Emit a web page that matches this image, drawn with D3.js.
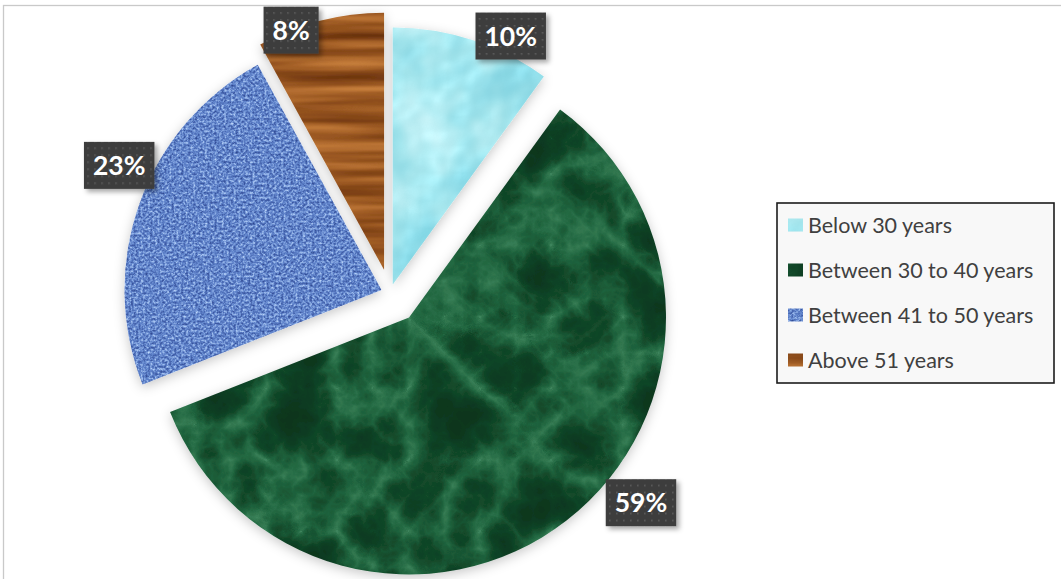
<!DOCTYPE html>
<html>
<head>
<meta charset="utf-8">
<script src="https://cdn.jsdelivr.net/npm/d3@7"></script>
<style>
  html, body { margin: 0; padding: 0; background: #ffffff; }
  svg { display: block; }
</style>
</head>
<body>
<svg id="chart" width="1061" height="579"></svg>
<script>
// ---------- data ----------
const categories = ["Below 30 years", "Between 30 to 40 years", "Between 41 to 50 years", "Above 51 years"];
const values = [10, 59, 23, 8];
const labels = ["10%", "59%", "23%", "8%"];

// ---------- layout / style ----------
const W = 1061, H = 579;
const center = { x: 390, y: 293 };
const radius = 257;
const explode = [9, 31, 9, 24];               // per-slice explosion (px)
const labelAngleShift = [7.4, -13.6, 5.6, -6.8]; // degrees from slice mid-angle
const labelRadiusFactor = [1.07, 1.155, 1.13, 1.0];
const textureIds = ["tex-water", "tex-marble", "tex-fabric", "tex-wood"];
const baseColors = ["#a8e2ec", "#1b5a34", "#5b80c9", "#9a5a24"];

const svg = d3.select("#chart");
const defs = svg.append("defs");

// texture filter builder
function textureFilter(id, turbType, freq, octaves, seed, tables, spec) {
  const f = defs.append("filter").attr("id", id)
    .attr("x", "-5%").attr("y", "-5%").attr("width", "110%").attr("height", "110%")
    .attr("color-interpolation-filters", "sRGB");
  f.append("feTurbulence").attr("type", turbType).attr("baseFrequency", freq)
    .attr("numOctaves", octaves).attr("seed", seed).attr("result", "noise");
  f.append("feColorMatrix").attr("in", "noise").attr("type", "matrix")
    .attr("values", "1 0 0 0 0  1 0 0 0 0  1 0 0 0 0  0 0 0 0 1").attr("result", "gray");
  const ct = f.append("feComponentTransfer").attr("in", "gray").attr("result", "col");
  ct.append("feFuncR").attr("type", "table").attr("tableValues", tables[0]);
  ct.append("feFuncG").attr("type", "table").attr("tableValues", tables[1]);
  ct.append("feFuncB").attr("type", "table").attr("tableValues", tables[2]);
  let last = "col";
  if (spec) {
    const sl = f.append("feSpecularLighting").attr("in", "noise").attr("surfaceScale", spec.scale)
      .attr("specularConstant", spec.k).attr("specularExponent", spec.exp)
      .attr("lighting-color", "#ffffff").attr("result", "spec");
    sl.append("feDistantLight").attr("azimuth", 225).attr("elevation", spec.elev);
    f.append("feComposite").attr("in", "spec").attr("in2", "SourceAlpha").attr("operator", "in").attr("result", "spec2");
    f.append("feComposite").attr("in", "col").attr("in2", "spec2").attr("operator", "arithmetic")
      .attr("k1", 0).attr("k2", 1).attr("k3", spec.mix).attr("k4", 0).attr("result", "lit");
    last = "lit";
  }
  f.append("feComposite").attr("in", last).attr("in2", "SourceGraphic").attr("operator", "in");
}

textureFilter("tex-water", "fractalNoise", "0.018", 3, 7,
  ["0.42 0.52 0.62 0.74 0.86", "0.78 0.83 0.88 0.93 0.97", "0.84 0.88 0.91 0.95 0.98"],
  { scale: 4, k: 0.5, exp: 20, elev: 45, mix: 0.28 });
textureFilter("tex-marble", "turbulence", "0.014", 5, 3,
  ["0.24 0.13 0.07 0.05 0.04 0.04", "0.52 0.40 0.28 0.23 0.21 0.2", "0.36 0.25 0.16 0.13 0.11 0.1"]);
textureFilter("tex-fabric", "fractalNoise", "0.42", 2, 11,
  ["0.14 0.24 0.38 0.62 0.84", "0.24 0.35 0.52 0.74 0.91", "0.50 0.64 0.80 0.93 1"]);
textureFilter("tex-wood", "fractalNoise", "0.004 0.07", 3, 5,
  ["0.32 0.46 0.60 0.74 0.84", "0.14 0.23 0.34 0.46 0.56", "0.03 0.07 0.13 0.21 0.28"]);

// slice shadow
const sh = defs.append("filter").attr("id", "slice-shadow")
  .attr("x", "-20%").attr("y", "-20%").attr("width", "140%").attr("height", "140%");
sh.append("feGaussianBlur").attr("in", "SourceAlpha").attr("stdDeviation", 6).attr("result", "b");
sh.append("feOffset").attr("in", "b").attr("dx", 0).attr("dy", 3).attr("result", "o");
sh.append("feFlood").attr("flood-color", "#000").attr("flood-opacity", 0.22);
sh.append("feComposite").attr("in2", "o").attr("operator", "in").attr("result", "s");
const shm = sh.append("feMerge");
shm.append("feMergeNode").attr("in", "s");
shm.append("feMergeNode").attr("in", "SourceGraphic");

// label box shadow
const lsh = defs.append("filter").attr("id", "label-shadow")
  .attr("x", "-20%").attr("y", "-20%").attr("width", "150%").attr("height", "150%");
lsh.append("feDropShadow").attr("dx", 3).attr("dy", 3).attr("stdDeviation", 2.5)
  .attr("flood-color", "#000").attr("flood-opacity", 0.35);

// dotted label pattern
const pat = defs.append("pattern").attr("id", "dots").attr("patternUnits", "userSpaceOnUse")
  .attr("width", 7).attr("height", 7);
pat.append("rect").attr("width", 7).attr("height", 7).attr("fill", "#3e3e3e");
pat.append("rect").attr("x", 3).attr("y", 3).attr("width", 1.6).attr("height", 1.6).attr("fill", "#5c5c5c");

// chart area border
svg.append("rect").attr("x", 3.5).attr("y", 5.5).attr("width", W + 20).attr("height", H + 20)
  .attr("fill", "#ffffff").attr("stroke", "#c9c9c9").attr("stroke-width", 1.3);

// ---------- pie ----------
const pie = d3.pie().sort(null).value(d => d.value).startAngle(0).endAngle(2 * Math.PI);
const arcs = pie(categories.map((c, i) => ({ cat: c, value: values[i], i })));
const arcGen = d3.arc().innerRadius(0).outerRadius(radius);

const gPie = svg.append("g").attr("filter", "url(#slice-shadow)");
arcs.forEach((a, i) => {
  const mid = (a.startAngle + a.endAngle) / 2;
  const ox = center.x + explode[i] * Math.sin(mid);
  const oy = center.y - explode[i] * Math.cos(mid);
  gPie.append("path")
    .attr("transform", `translate(${ox},${oy})`)
    .attr("d", arcGen(a))
    .attr("fill", baseColors[i])
    .attr("filter", `url(#${textureIds[i]})`);
});

// ---------- data labels ----------
const gLab = svg.append("g");
arcs.forEach((a, i) => {
  const mid = (a.startAngle + a.endAngle) / 2;
  const ox = center.x + explode[i] * Math.sin(mid);
  const oy = center.y - explode[i] * Math.cos(mid);
  const ang = mid + labelAngleShift[i] * Math.PI / 180;
  const r = radius * labelRadiusFactor[i];
  const lx = ox + r * Math.sin(ang);
  const ly = oy - r * Math.cos(ang);
  const g = gLab.append("g").attr("transform", `translate(${lx},${ly})`);
  const rect = g.append("rect").attr("fill", "url(#dots)").attr("filter", "url(#label-shadow)");
  const t = g.append("text").text(labels[i])
    .attr("text-anchor", "middle").attr("y", 9.5)
    .attr("font-family", "Lato, 'Open Sans', sans-serif").attr("font-weight", "bold")
    .attr("font-size", 26.5).attr("fill", "#ffffff");
  const tw = t.node().getComputedTextLength();
  const bw = tw + 18, bh = 47;
  rect.attr("x", -bw / 2).attr("y", -bh / 2).attr("width", bw).attr("height", bh);
});

// ---------- legend ----------
const legend = svg.append("g").attr("transform", "translate(777,203)");
legend.append("rect").attr("width", 277).attr("height", 180)
  .attr("fill", "#f8f8f8").attr("stroke", "#1c1c1c").attr("stroke-width", 1.6);
categories.forEach((c, i) => {
  const yc = 22 + i * 45;
  legend.append("rect").attr("x", 11).attr("y", yc - 6.5).attr("width", 15).attr("height", 13)
    .attr("fill", baseColors[i]).attr("filter", `url(#${textureIds[i]})`);
  legend.append("text").attr("x", 31).attr("y", yc + 7.5)
    .attr("font-family", "Lato, 'Open Sans', sans-serif").attr("font-size", 21.5)
    .attr("fill", "#404040").text(c);
});
</script>
</body>
</html>
